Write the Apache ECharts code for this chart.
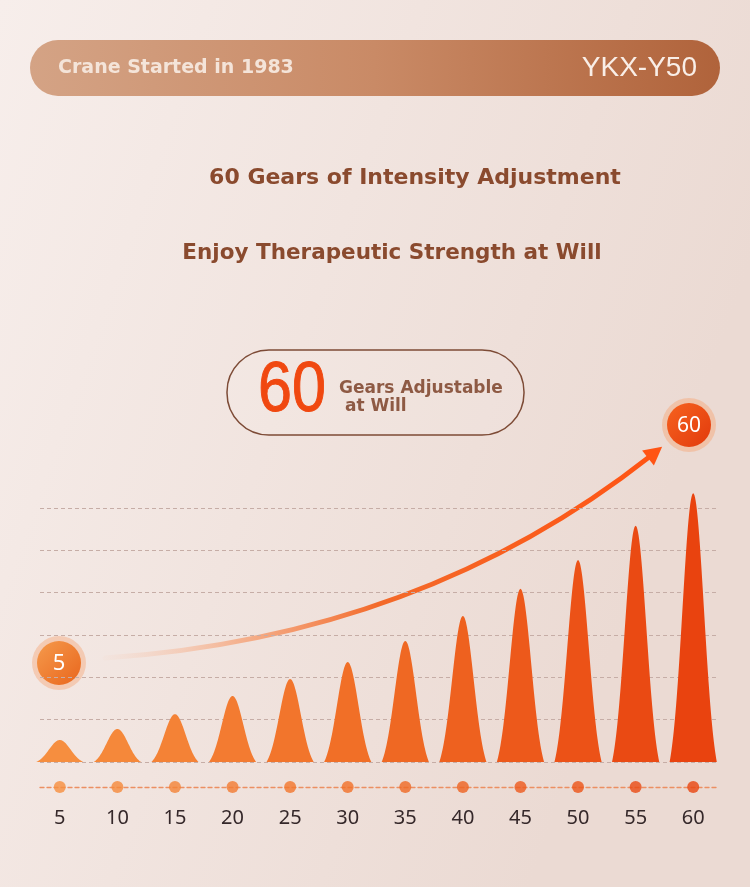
<!DOCTYPE html>
<html>
<head>
<meta charset="utf-8">
<script src="https://cdn.jsdelivr.net/npm/echarts@6/dist/echarts.min.js"></script>
<style>
  html, body { margin: 0; padding: 0; }
  #main { width: 750px; height: 887px; }
</style>
</head>
<body>
<div id="main"></div>
<script>
// gear levels on the x axis
let gears = ["5", "10", "15", "20", "25", "30", "35", "40", "45", "50", "55", "60"];
// peak height of each pulse, in grid steps
let intensity = [0.52, 0.78, 1.13, 1.56, 1.96, 2.36, 2.86, 3.45, 4.09, 4.77, 5.58, 6.35];
// dashed guide lines
let gridMax = 6;
let gridStep = 1;

let headerLeft = "Crane Started in 1983";
let headerRight = "YKX-Y50";
let titleLine1 = "60 Gears of Intensity Adjustment";
let titleLine2 = "Enjoy Therapeutic Strength at Will";
let badgeBig = "60";
let badgeLine1 = "Gears Adjustable";
let badgeLine2 = " at Will";

let myChart = document.getElementById("main");
let initChart = echarts.init(myChart, null, { renderer: "canvas" });

// bell shaped pulse for every gear
let renderBell = (params, api) => {
  let i = api.value(0);
  let v = api.value(1);
  let base = api.coord([i, 0]);
  let top = api.coord([i, v]);
  let hw = api.size([1, 0])[0] * 0.41;
  let k = 1.55;
  let e1 = Math.exp(-k * k);
  let pts = [];
  for (let s = 0; s <= 80; s++) {
    let u = -1 + s / 40;
    let f = (Math.exp(-(u * k) * (u * k)) - e1) / (1 - e1);
    pts.push([base[0] + u * hw, base[1] - f * (base[1] - top[1])]);
  }
  return {
    type: "polygon",
    shape: { points: pts },
    style: { fill: api.visual("color") },
  };
};

// arrow geometry
let p0 = [105, 658], pc = [421, 637], p2 = [648, 458];
let dx = p2[0] - pc[0], dy = p2[1] - pc[1];
let len = Math.sqrt(dx * dx + dy * dy);
let ux = dx / len, uy = dy / len;
let tip = [p2[0] + ux * 18, p2[1] + uy * 18];
let c1 = [p2[0] + uy * 9.5, p2[1] - ux * 9.5];
let c2 = [p2[0] - uy * 9.5, p2[1] + ux * 9.5];

let option = {
  backgroundColor: new echarts.graphic.LinearGradient(0, 0, 1, 0.3, [
    { offset: 0, color: "#f7eeeb" },
    { offset: 1, color: "#ebdad3" },
  ]),

  grid: [
    { left: 40, right: 32, top: 508, bottom: 125 },
    { left: 31, right: 28, top: 508, bottom: 125 },
  ],

  xAxis: [
    {
      gridIndex: 0,
      type: "value",
      min: 0,
      max: 1,
      offset: 25,
      axisLine: {
        show: true,
        onZero: false,
        lineStyle: { color: "#ec8f62", type: [4, 3], width: 1.3 },
      },
      axisTick: { show: false },
      axisLabel: { show: false },
      splitLine: { show: false },
    },
    {
      gridIndex: 1,
      type: "category",
      data: gears,
      axisLine: { show: false },
      axisTick: { show: false },
      axisLabel: {
        margin: 46,
        fontSize: 20,
        color: "#35282a",
        fontFamily: "Noto Sans",
      },
    },
  ],

  yAxis: [
    {
      gridIndex: 0,
      type: "value",
      min: 0,
      max: gridMax,
      interval: gridStep,
      axisLine: { show: false },
      axisTick: { show: false },
      axisLabel: { show: false },
      splitLine: { lineStyle: { color: "#c6ada6", type: [4, 3], width: 1 } },
    },
    { gridIndex: 1, type: "value", min: 0, max: gridMax, show: false },
  ],

  visualMap: {
    show: false,
    type: "continuous",
    dimension: 0,
    min: 0,
    max: gears.length - 1,
    seriesIndex: [0, 1],
    inRange: { color: ["#f68e3f", "#f06c25", "#e9430f"] },
  },

  series: [
    {
      type: "custom",
      xAxisIndex: 1,
      yAxisIndex: 1,
      renderItem: renderBell,
      data: intensity.map((v, i) => [i, v]),
      z: 3,
    },
    {
      type: "scatter",
      xAxisIndex: 1,
      yAxisIndex: 1,
      clip: false,
      symbolSize: 12,
      symbolOffset: [0, 25],
      data: gears.map((g, i) => [i, 0]),
      z: 4,
    },
  ],

  graphic: [
    // header bar
    {
      type: "rect",
      shape: { x: 30, y: 40, width: 690, height: 56, r: 28 },
      style: {
        fill: new echarts.graphic.LinearGradient(0, 0, 1, 0, [
          { offset: 0, color: "#d4a385" },
          { offset: 0.5, color: "#c98a66" },
          { offset: 1, color: "#b0633b" },
        ]),
      },
    },
    {
      type: "text",
      x: 58,
      y: 68,
      style: {
        text: headerLeft,
        font: "bold 19px 'DejaVu Sans'",
        fill: "#f4e4d9",
        textVerticalAlign: "middle",
      },
    },
    {
      type: "text",
      x: 697,
      y: 68,
      style: {
        text: headerRight,
        font: "28px 'Liberation Sans'",
        fill: "#f9eee7",
        textAlign: "right",
        textVerticalAlign: "middle",
      },
    },
    // titles
    {
      type: "text",
      x: 415,
      y: 178,
      style: {
        text: titleLine1,
        font: "bold 22px 'DejaVu Sans'",
        fill: "#8a4a2e",
        textAlign: "center",
        textVerticalAlign: "middle",
      },
    },
    {
      type: "text",
      x: 392,
      y: 253,
      style: {
        text: titleLine2,
        font: "bold 21.5px 'DejaVu Sans'",
        fill: "#8a4a2e",
        textAlign: "center",
        textVerticalAlign: "middle",
      },
    },
    // badge
    {
      type: "rect",
      shape: { x: 227, y: 350, width: 297, height: 85, r: 42 },
      style: { fill: "rgba(255,255,255,0.08)", stroke: "#7d4b36", lineWidth: 1.5 },
    },
    {
      type: "text",
      x: 258,
      y: 391,
      scaleX: 0.86,
      style: {
        text: badgeBig,
        font: "71px 'Liberation Sans'",
        fill: "#f04810",
        stroke: "#f04810",
        lineWidth: 1,
        textVerticalAlign: "middle",
      },
    },
    {
      type: "text",
      x: 339,
      y: 389,
      style: {
        text: badgeLine1,
        font: "bold 17px 'DejaVu Sans'",
        fill: "#8e5a44",
        textVerticalAlign: "middle",
      },
    },
    {
      type: "text",
      x: 339,
      y: 407,
      style: {
        text: badgeLine2,
        font: "bold 17px 'DejaVu Sans'",
        fill: "#8e5a44",
        textVerticalAlign: "middle",
      },
    },
    // rising arrow
    {
      type: "bezierCurve",
      shape: { x1: p0[0], y1: p0[1], cpx1: pc[0], cpy1: pc[1], x2: p2[0] + ux * 3, y2: p2[1] + uy * 3 },
      style: {
        fill: null,
        lineWidth: 5,
        lineCap: "round",
        stroke: new echarts.graphic.LinearGradient(0, 0, 1, 0, [
          { offset: 0, color: "rgba(248,196,170,0.05)" },
          { offset: 0.25, color: "rgba(246,160,115,0.75)" },
          { offset: 0.5, color: "#f36a2a" },
          { offset: 1, color: "#ff5414" },
        ]),
      },
    },
    {
      type: "polygon",
      shape: { points: [tip, c1, c2] },
      style: { fill: "#ff5414" },
    },
    // start badge
    {
      type: "circle",
      shape: { cx: 59, cy: 663, r: 27 },
      style: { fill: "rgba(244,178,140,0.55)" },
    },
    {
      type: "circle",
      shape: { cx: 59, cy: 663, r: 22 },
      style: {
        fill: new echarts.graphic.LinearGradient(0, 0, 1, 1, [
          { offset: 0, color: "#f59a4c" },
          { offset: 1, color: "#e9661d" },
        ]),
      },
    },
    {
      type: "text",
      x: 59,
      y: 664,
      style: {
        text: gears[0],
        font: "22px 'Noto Sans'",
        fill: "#ffffff",
        textAlign: "center",
        textVerticalAlign: "middle",
      },
    },
    // end badge
    {
      type: "circle",
      shape: { cx: 689, cy: 425, r: 27 },
      style: { fill: "rgba(244,178,140,0.6)" },
    },
    {
      type: "circle",
      shape: { cx: 689, cy: 425, r: 22 },
      style: {
        fill: new echarts.graphic.LinearGradient(0, 0, 1, 1, [
          { offset: 0, color: "#f6621f" },
          { offset: 1, color: "#e23a0c" },
        ]),
      },
    },
    {
      type: "text",
      x: 689,
      y: 426,
      style: {
        text: gears[gears.length - 1],
        font: "21px 'Noto Sans'",
        fill: "#ffffff",
        textAlign: "center",
        textVerticalAlign: "middle",
      },
    },
  ],

  animation: false,
};

initChart.setOption(option);
</script>
</body>
</html>
